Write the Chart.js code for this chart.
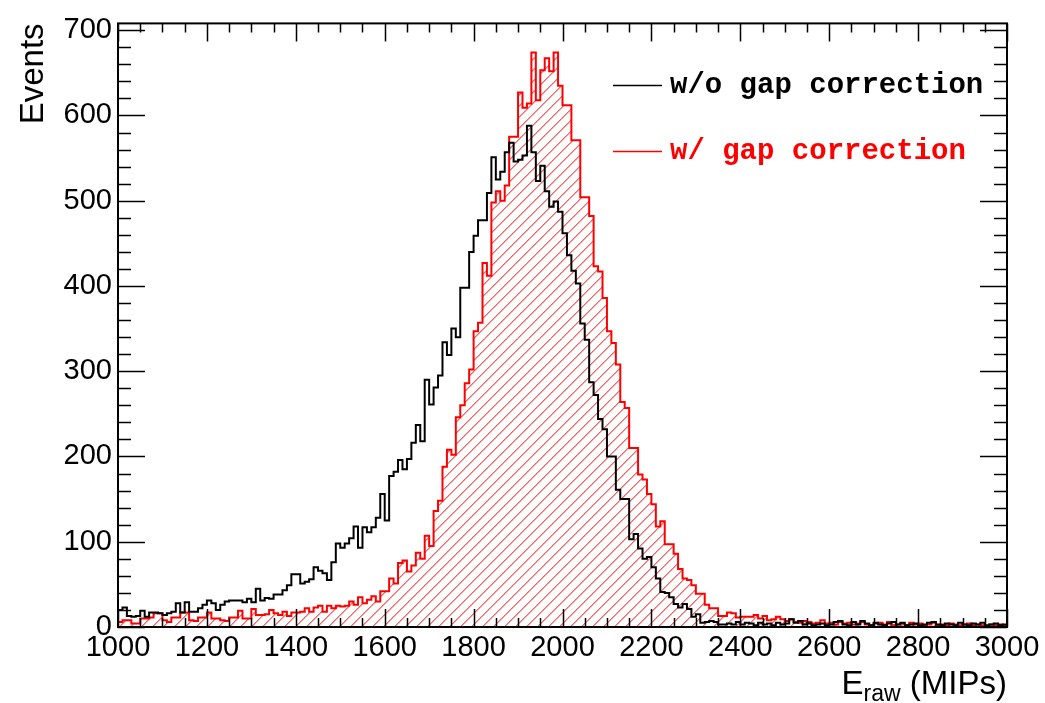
<!DOCTYPE html>
<html>
<head>
<meta charset="utf-8">
<script src="https://cdn.jsdelivr.net/npm/chart.js@4.4.0/dist/chart.umd.min.js"></script>
<style>
  html, body { margin: 0; padding: 0; background: #ffffff; overflow: hidden; }
  canvas { display: block; }
</style>
</head>
<body>
<canvas id="chart" width="1045" height="703"></canvas>
<script>
// Histogram binning: 200 bins of 10 MIPs from 1000 to 3000
const binStart = 1000;
const binWidth = 10;

// Events per bin, raw energy without the gap correction
const withoutGapCorrection = [
  20, 23, 13, 12, 13, 19, 12, 17, 17, 16,
  14, 16, 18, 28, 17, 29, 18, 18, 22, 26,
  31, 28, 20, 26, 30, 31, 31, 31, 29, 33,
  29, 45, 31, 34, 33, 38, 38, 43, 49, 62,
  62, 51, 53, 56, 70, 66, 63, 55, 76, 98,
  93, 98, 104, 118, 93, 117, 111, 117, 128, 156,
  125, 177, 182, 196, 185, 197, 216, 237, 218, 290,
  261, 281, 295, 334, 319, 350, 340, 398, 398, 440,
  459, 477, 477, 509, 551, 525, 534, 557, 568, 546,
  548, 553, 588, 557, 523, 541, 511, 493, 499, 487,
  462, 436, 418, 403, 356, 337, 287, 272, 244, 232,
  200, 200, 161, 150, 150, 103, 109, 92, 80, 82,
  70, 57, 41, 40, 35, 27, 23, 27, 21, 12,
  15, 5, 6, 7, 6, 3, 3, 4, 3, 6,
  3, 5, 4, 2, 5, 3, 4, 2, 5, 3,
  4, 9, 5, 7, 3, 4, 2, 3, 4, 2,
  3, 6, 7, 3, 2, 6, 3, 7, 4, 2,
  5, 3, 2, 4, 6, 3, 5, 2, 3, 4,
  2, 3, 5, 6, 3, 2, 4, 3, 2, 5,
  3, 2, 4, 3, 5, 2, 3, 4, 2, 3
];

// Events per bin, raw energy with the gap correction applied
const withGapCorrection = [
  6, 8, 8, 4, 4, 10, 10, 11, 16, 16,
  8, 6, 11, 11, 17, 17, 8, 7, 11, 11,
  17, 10, 10, 8, 7, 11, 11, 19, 10, 10,
  21, 14, 14, 15, 20, 16, 14, 18, 13, 17,
  17, 18, 22, 18, 23, 25, 18, 25, 22, 25,
  24, 25, 30, 26, 35, 28, 32, 36, 30, 42,
  42, 57, 51, 75, 78, 65, 72, 87, 80, 107,
  95, 136, 148, 188, 208, 202, 246, 260, 286, 302,
  347, 357, 427, 412, 498, 511, 500, 518, 575, 575,
  627, 609, 614, 674, 618, 653, 667, 652, 674, 635,
  612, 612, 571, 571, 504, 504, 482, 423, 417, 386,
  347, 333, 308, 264, 257, 210, 210, 179, 173, 156,
  144, 118, 124, 97, 97, 86, 68, 57, 55, 49,
  39, 39, 26, 22, 22, 13, 13, 17, 16, 11,
  12, 12, 12, 14, 10, 13, 8, 9, 12, 9,
  7, 9, 6, 5, 7, 6, 4, 5, 8, 4,
  5, 3, 6, 4, 5, 3, 4, 6, 3, 2,
  4, 5, 3, 6, 2, 3, 4, 2, 5, 3,
  4, 2, 3, 5, 2, 3, 2, 4, 3, 2,
  3, 4, 2, 3, 2, 1, 3, 2, 3, 2
];

// Labelled axis ticks
const xTickValues = [1000, 1200, 1400, 1600, 1800, 2000, 2200, 2400, 2600, 2800, 3000];
const yTickValues = [0, 100, 200, 300, 400, 500, 600, 700];

const seriesNames = ['w/o gap correction', 'w/ gap correction'];
const seriesColors = ['#000000', '#ff0000'];

// Turn bin contents into step points at the bin low edges (plus the closing edge)
function toSteps(values) {
  const pts = values.map((v, i) => ({ x: binStart + i * binWidth, y: v }));
  pts.push({ x: binStart + values.length * binWidth, y: values[values.length - 1] });
  return pts;
}

const FONT = '"Liberation Sans", Arial, Helvetica, sans-serif';

// Diagonal "/" hatching under the corrected histogram, clipped to its outline
const hatchPlugin = {
  id: 'hatchFill',
  beforeDatasetsDraw(chart) {
    const { ctx, chartArea: a, scales: { x, y } } = chart;
    const vals = withGapCorrection;
    ctx.save();
    ctx.beginPath();
    ctx.rect(a.left, a.top, a.right - a.left, a.bottom - a.top);
    ctx.clip();
    const y0 = y.getPixelForValue(0);
    ctx.beginPath();
    ctx.moveTo(x.getPixelForValue(binStart), y0);
    vals.forEach((v, i) => {
      const py = y.getPixelForValue(v);
      ctx.lineTo(x.getPixelForValue(binStart + i * binWidth), py);
      ctx.lineTo(x.getPixelForValue(binStart + (i + 1) * binWidth), py);
    });
    ctx.lineTo(x.getPixelForValue(binStart + vals.length * binWidth), y0);
    ctx.closePath();
    ctx.clip();
    ctx.strokeStyle = '#ff0000';
    ctx.lineWidth = 1;
    ctx.beginPath();
    const h = a.bottom - a.top;
    for (let s = a.left - h; s < a.right + 11; s += 11) {
      ctx.moveTo(s, a.bottom);
      ctx.lineTo(s + h, a.top);
    }
    ctx.stroke();
    ctx.restore();
  }
};

// Frame with inward ticks on all four sides, axis titles and the legend
const framePlugin = {
  id: 'rootFrame',
  afterDatasetsDraw(chart) {
    const { ctx, chartArea: a, scales: { x, y } } = chart;
    ctx.save();
    ctx.strokeStyle = '#000';
    ctx.lineWidth = 2;
    ctx.strokeRect(a.left, a.top, a.right - a.left, a.bottom - a.top);

    ctx.lineWidth = 1.5;
    ctx.beginPath();
    for (let v = x.min; v <= x.max + 1e-6; v += 50) {
      const px = Math.round(x.getPixelForValue(v)) + 0.5;
      const len = (v % 200 === 0) ? 18 : 9;
      ctx.moveTo(px, a.bottom); ctx.lineTo(px, a.bottom - len);
      ctx.moveTo(px, a.top); ctx.lineTo(px, a.top + len);
    }
    for (let v = 0; v <= 700; v += 20) {
      const py = Math.round(y.getPixelForValue(v)) + 0.5;
      const len = (v % 100 === 0) ? 27 : 13;
      ctx.moveTo(a.left, py); ctx.lineTo(a.left + len, py);
      ctx.moveTo(a.right, py); ctx.lineTo(a.right - len, py);
    }
    ctx.stroke();
    ctx.restore();
  },
  afterDraw(chart) {
    const { ctx, chartArea: a } = chart;
    ctx.save();
    ctx.fillStyle = '#000';

    // y title, rotated, aligned to the top of the frame
    ctx.save();
    ctx.translate(43, a.top);
    ctx.rotate(-Math.PI / 2);
    ctx.font = '33px ' + FONT;
    ctx.textAlign = 'right';
    ctx.textBaseline = 'alphabetic';
    ctx.fillText('Events', 0, 0);
    ctx.restore();

    // x title with subscript, right-aligned to the axis end
    const mainFont = '33px ' + FONT;
    const subFont = '23px ' + FONT;
    ctx.textBaseline = 'alphabetic';
    ctx.textAlign = 'left';
    ctx.font = mainFont;
    const wE = ctx.measureText('E').width;
    const wRest = ctx.measureText(' (MIPs)').width;
    ctx.font = subFont;
    const wSub = ctx.measureText('raw').width;
    let xPos = a.right - (wE + wSub + wRest);
    const base = 694;
    ctx.font = mainFont;
    ctx.fillText('E', xPos, base);
    xPos += wE;
    ctx.font = subFont;
    ctx.fillText('raw', xPos, base + 7);
    xPos += wSub;
    ctx.font = mainFont;
    ctx.fillText(' (MIPs)', xPos, base);

    // legend
    const rows = [85, 151];
    ctx.font = 'bold 29px "Liberation Mono", "Courier New", monospace';
    ctx.textBaseline = 'middle';
    rows.forEach((ry, i) => {
      ctx.strokeStyle = seriesColors[i];
      ctx.lineWidth = 1.5;
      ctx.beginPath();
      ctx.moveTo(613, ry + 0.5); ctx.lineTo(662, ry + 0.5);
      ctx.stroke();
      ctx.fillStyle = seriesColors[i];
      ctx.fillText(seriesNames[i], 670, ry + 1);
    });
    ctx.restore();
  }
};

const ctx = document.getElementById('chart').getContext('2d');
new Chart(ctx, {
  type: 'line',
  data: {
    datasets: [
      {
        label: seriesNames[0],
        data: toSteps(withoutGapCorrection),
        stepped: true,
        borderColor: seriesColors[0],
        backgroundColor: 'transparent',
        borderWidth: 2,
        pointRadius: 0,
        fill: false
      },
      {
        label: seriesNames[1],
        data: toSteps(withGapCorrection),
        stepped: true,
        borderColor: seriesColors[1],
        backgroundColor: 'transparent',
        borderWidth: 2,
        pointRadius: 0,
        fill: false
      }
    ]
  },
  options: {
    responsive: false,
    animation: false,
    events: [],
    layout: { padding: { top: 17, right: 38, bottom: 0, left: 0 } },
    plugins: { legend: { display: false }, tooltip: { enabled: false }, title: { display: false } },
    scales: {
      x: {
        type: 'linear',
        min: 1000,
        max: 3000,
        grid: { display: false, drawTicks: false },
        border: { display: false },
        afterBuildTicks(scale) { scale.ticks = xTickValues.map(v => ({ value: v })); },
        afterFit(scale) { scale.height = 76; },
        ticks: {
          autoSkip: false,
          maxRotation: 0,
          padding: 4,
          color: '#000',
          font: { family: FONT, size: 29 },
          callback: (v) => String(v)
        }
      },
      y: {
        type: 'linear',
        min: 0,
        max: 708,
        grid: { display: false, drawTicks: false },
        border: { display: false },
        afterBuildTicks(scale) { scale.ticks = yTickValues.map(v => ({ value: v })); },
        afterFit(scale) { scale.width = 118; },
        ticks: {
          padding: 6,
          color: '#000',
          font: { family: FONT, size: 29 },
          callback: (v) => String(v)
        }
      }
    }
  },
  plugins: [hatchPlugin, framePlugin]
});
</script>
</body>
</html>
